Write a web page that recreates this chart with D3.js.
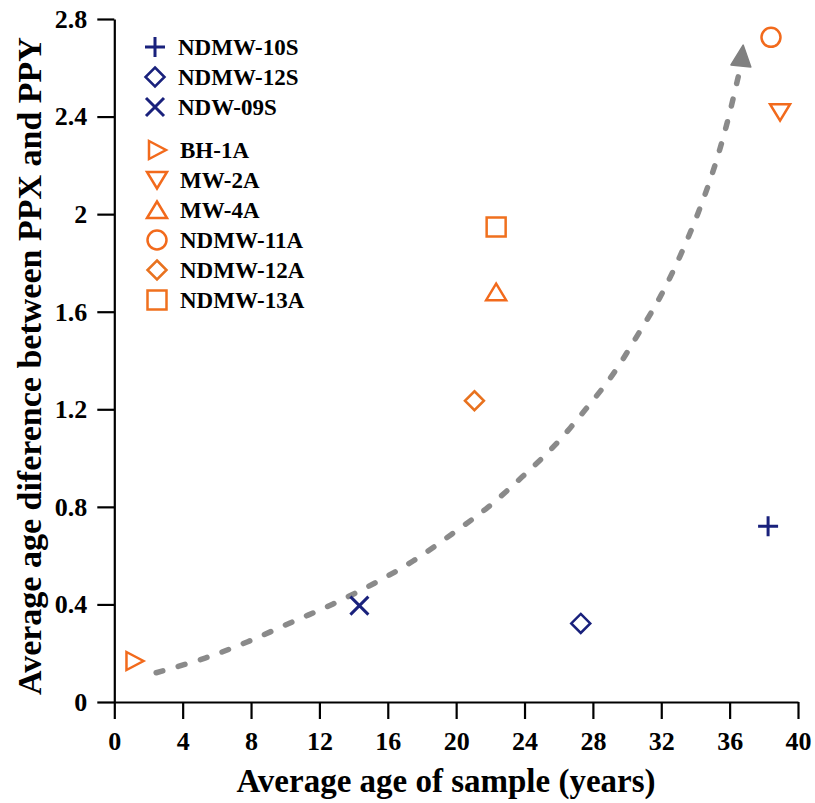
<!DOCTYPE html>
<html><head><meta charset="utf-8">
<script src="https://cdn.jsdelivr.net/npm/d3@7"></script>
<style>body{margin:0;background:#fff}svg{display:block}</style>
</head><body><svg id="c" width="815" height="803"></svg>
<script>
// ---- data ----
const seriesNames  = ["NDMW-10S","NDMW-12S","NDW-09S","BH-1A","MW-2A","MW-4A","NDMW-11A","NDMW-12A","NDMW-13A"];
const seriesX      = [38.25, 27.29, 14.34, 1.18, 38.95, 22.34, 38.42, 21.07, 22.34];
const seriesY      = [0.721, 0.322, 0.395, 0.168, 2.418, 1.68, 2.725, 1.235, 1.947];
const seriesSymbol = ["plus","diamond","cross","triRight","triDown","triUp","circle","diamond","square"];
const seriesColor  = ["#19217c","#19217c","#19217c","#f26a1c","#f26a1c","#f26a1c","#f26a1c","#e8721f","#f0701e"];
const xTicks = [0,4,8,12,16,20,24,28,32,36,40];
const yTicks = [0,0.4,0.8,1.2,1.6,2,2.4,2.8];
const yTickLabels = ["0","0.4","0.8","1.2","1.6","2","2.4","2.8"];
// hand-drawn trend arrow (data units); last point = arrow tip
const trendX = [2.45, 5.31, 7.77, 10.28, 12.8, 15.25, 17.48, 19.76, 21.87, 23.85, 25.78, 27.54, 29.18, 30.58, 31.93, 33.1, 34.15, 35.03, 35.79, 36.43, 36.67, 36.79];
const trendY = [0.12, 0.18, 0.246, 0.324, 0.402, 0.488, 0.578, 0.689, 0.799, 0.922, 1.053, 1.197, 1.344, 1.50, 1.66, 1.828, 2.004, 2.176, 2.357, 2.541, 2.615, 2.693];

// ---- layout ----
const svg = d3.select("#c");
const font = "'Liberation Serif','Times New Roman',serif";
const x = d3.scaleLinear().domain([0,40]).range([114.3,798]);
const y = d3.scaleLinear().domain([0,2.8]).range([702,19]);

// axes
const gx = svg.append("g").attr("transform","translate(0,702)")
  .call(d3.axisBottom(x).tickValues(xTicks).tickFormat(d3.format("d")).tickSize(17).tickSizeOuter(0).tickPadding(13));
const gy = svg.append("g").attr("transform","translate(114.3,0)")
  .call(d3.axisLeft(y).tickValues(yTicks).tickFormat((d,i)=>yTickLabels[i]).tickSize(17).tickSizeOuter(0).tickPadding(10));
[gx,gy].forEach(g=>{
  g.selectAll("path,line").attr("stroke","#000").attr("stroke-width",2.2);
  g.selectAll("text").attr("font-family",font).attr("font-weight","bold").attr("font-size",26).attr("fill","#000");
});
gx.selectAll("text").attr("dy","0.71em");

// titles
svg.append("text").attr("x",446).attr("y",792).attr("text-anchor","middle")
  .attr("font-family",font).attr("font-weight","bold").attr("font-size",33).text("Average age of sample (years)");
svg.append("text").attr("transform","translate(41,366) rotate(-90)").attr("text-anchor","middle")
  .attr("font-family",font).attr("font-weight","bold").attr("font-size",34).text("Average age diference between PPX and PPY");

// trend line
const n = trendX.length;
const linePts = trendX.slice(0,n-1).map((d,i)=>[x(d),y(trendY[i])]);
svg.append("path").attr("d", d3.line().curve(d3.curveCatmullRom)(linePts))
  .attr("fill","none").attr("stroke","#8a8a8a").attr("stroke-width",5.5)
  .attr("stroke-dasharray","7 16").attr("stroke-linecap","round");
// arrow head
const tip = [x(trendX[n-1]), y(trendY[n-1])];
const base = linePts[linePts.length-1];
const dx = tip[0]-base[0], dy = tip[1]-base[1], L = Math.hypot(dx,dy);
const ux = dx/L, uy = dy/L, hl = 21, hw = 10;
const bx = tip[0]-ux*hl, by = tip[1]-uy*hl;
svg.append("path").attr("d",`M${tip[0]},${tip[1]}L${bx-uy*hw},${by+ux*hw}L${bx+uy*hw},${by-ux*hw}Z`)
  .attr("fill","#808080").attr("stroke","#808080").attr("stroke-width",1.5).attr("stroke-linejoin","round");

// symbols
function symbolPath(t){
  switch(t){
    case "plus": return "M-10,0H10M0,-10V10";
    case "cross": return "M-9,-9L9,9M-9,9L9,-9";
    case "diamond": return "M0,-9.5L9.5,0L0,9.5L-9.5,0Z";
    case "square": return "M-9.5,-9.5H9.5V9.5H-9.5Z";
    case "triUp": return "M0,-8.5L10,8L-10,8Z";
    case "triDown": return "M-10,-8L10,-8L0,8.5Z";
    case "triRight": return "M-8,-9L9,0L-8,9Z";
    case "circle": return "M9.5,0A9.5,9.5 0 1,1 -9.5,0A9.5,9.5 0 1,1 9.5,0Z";
  }
}
function sw(t){ return (t==="plus"||t==="cross")?3:2.5; }

svg.append("g").selectAll("path").data(seriesNames).join("path")
  .attr("transform",(d,i)=>`translate(${x(seriesX[i])},${y(seriesY[i])})`)
  .attr("d",(d,i)=>symbolPath(seriesSymbol[i]))
  .attr("fill","none").attr("stroke",(d,i)=>seriesColor[i]).attr("stroke-width",(d,i)=>sw(seriesSymbol[i]));

// legend
const legendRowY = [47,77,107,150,180,210,240,270,300];
const lg = svg.append("g");
seriesNames.forEach((name,i)=>{
  const mx = i<3 ? 155 : 157, tx = i<3 ? 178 : 180;
  lg.append("path").attr("transform",`translate(${mx},${legendRowY[i]})`)
    .attr("d",symbolPath(seriesSymbol[i])).attr("fill","none")
    .attr("stroke",seriesColor[i]).attr("stroke-width",sw(seriesSymbol[i]));
  lg.append("text").attr("x",tx).attr("y",legendRowY[i]+8)
    .attr("font-family",font).attr("font-weight","bold").attr("font-size",23).attr("fill","#000").text(name);
});
</script></body></html>
